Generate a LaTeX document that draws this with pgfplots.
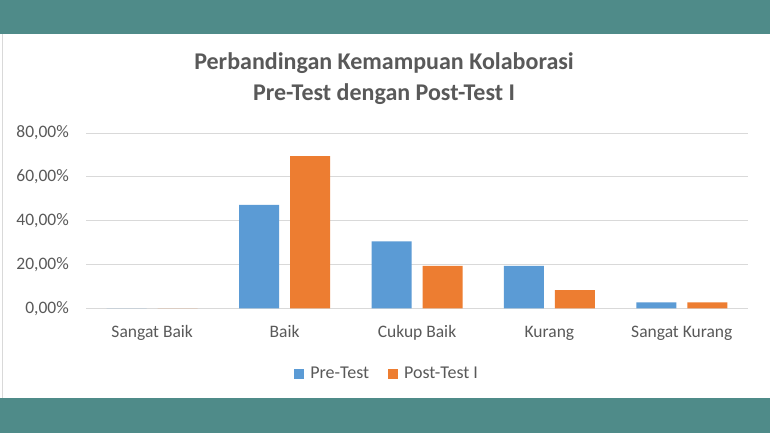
\documentclass[border=0pt]{standalone}
\usepackage{pgfplots}
\pgfplotsset{compat=1.18}
\usepackage{fontspec}
\setmainfont{Carlito}

\definecolor{band}{RGB}{79,139,137}
\definecolor{txt}{RGB}{89,89,89}
\definecolor{gridc}{RGB}{217,217,217}
\definecolor{pre}{RGB}{91,155,213}
\definecolor{post}{RGB}{237,125,49}

\begin{document}
\begin{tikzpicture}[x=1pt,y=1pt]
% panel and teal bands
\fill[white] (0,0) rectangle (770,433);
\fill[band] (0,399) rectangle (770,433);
\fill[band] (0,0) rectangle (770,35);
\draw[gridc, line width=1pt] (2.5,35) -- (2.5,399);

% title
\node[anchor=base, text=txt, font=\fontsize{24}{28}\selectfont\bfseries] at (384,363) {Perbandingan Kemampuan Kolaborasi};
\node[anchor=base, text=txt, font=\fontsize{24}{28}\selectfont\bfseries] at (384,332.5) {Pre-Test dengan Post-Test I};

\begin{axis}[
  at={(86pt,124.5pt)}, anchor=south west,
  scale only axis,
  width=662pt, height=175.5pt,
  ybar=11pt, bar width=40pt,
  xmin=-0.5, xmax=4.5,
  ymin=0, ymax=80,
  xtick={0,1,2,3,4},
  xticklabels={Sangat Baik, Baik, Cukup Baik, Kurang, Sangat Kurang},
  ytick={0,20,40,60,80},
  yticklabels={{0,00\%},{20,00\%},{40,00\%},{60,00\%},{80,00\%}},
  major tick length=0pt,
  axis line style={draw=none},
  xmajorgrids=false, ymajorgrids=true,
  grid style={draw=gridc, line width=1pt},
  tick label style={text=txt, font=\fontsize{17.5}{20}\selectfont},
  xticklabel style={anchor=base, inner sep=0pt, yshift=-29.5pt},
  yticklabel style={anchor=east, inner sep=0pt, xshift=-17pt},
  legend columns=-1,
  legend style={
    at={(0.455,-0.373)}, anchor=center,
    draw=none, fill=none,
    font=\fontsize{18}{20}\selectfont, text=txt,
    /tikz/every odd column/.append style={column sep=4pt},
    /tikz/every even column/.append style={column sep=17pt},
  },
  legend image code/.code={\fill[#1] (0pt,-5pt) rectangle (10pt,5pt);},
]
\addplot[fill=pre, draw=none] coordinates {(0,0) (1,47.22) (2,30.56) (3,19.44) (4,2.78)};
\addplot[fill=post, draw=none] coordinates {(0,0) (1,69.44) (2,19.44) (3,8.33) (4,2.78)};
\legend{Pre-Test, Post-Test I}
\end{axis}
\end{tikzpicture}
\end{document}
